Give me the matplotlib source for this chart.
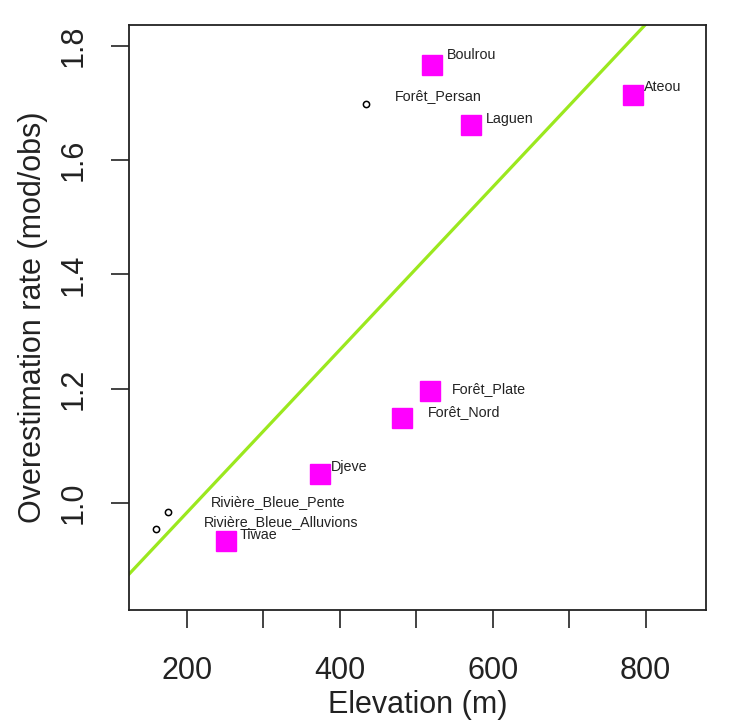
import matplotlib.pyplot as plt
import numpy as np

# sites shown as filled squares
sites = ['Boulrou', 'Laguen', 'Ateou', 'Forêt_Plate', 'Forêt_Nord', 'Djeve', 'Tiwae']
elev = [520, 571, 783, 518, 481, 374, 251]
rate = [1.767, 1.661, 1.714, 1.195, 1.149, 1.051, 0.932]

# sites shown as small open circles
other_sites = ['Forêt_Persan', 'Rivière_Bleue_Pente', 'Rivière_Bleue_Alluvions']
other_elev = [434, 175, 159]
other_rate = [1.698, 0.984, 0.954]

# fitted line: rate = intercept + slope * elevation
intercept = 0.698
slope = 0.001425

# label offsets (points) from each marker
offsets = {
    'Boulrou': (11, 7), 'Laguen': (11, 5), 'Ateou': (8, 6),
    'Forêt_Plate': (16, 1.5), 'Forêt_Nord': (19, 4), 'Djeve': (8, 5),
    'Tiwae': (10, 5), 'Forêt_Persan': (21, 6),
    'Rivière_Bleue_Pente': (31, 7), 'Rivière_Bleue_Alluvions': (35, 5),
}

plt.rcParams['font.family'] = ['Liberation Sans', 'DejaVu Sans']

fig = plt.figure(figsize=(7.30, 7.21), dpi=100)
ax = fig.add_axes([0.1767, 0.154, 0.7903, 0.8113])

xlim = (124, 879)
ax.set_xlim(xlim)
ax.set_ylim(0.812, 1.837)

xs = np.array(xlim)
ax.plot(xs, intercept + slope * xs, color='#9be81e', lw=2.3, zorder=1)

ax.plot(elev, rate, 's', color='#ff00ff', ms=14.5, mec='#ff00ff', zorder=3)
ax.plot(other_elev, other_rate, 'o', mfc='white', mec='black', ms=4.5, mew=1.1, zorder=3)

for name, x, y in zip(sites + other_sites, elev + other_elev, rate + other_rate):
    ax.annotate(name, (x, y), xytext=offsets[name], textcoords='offset points',
                ha='left', va='center', fontsize=10.3, color='#222222')

ax.set_xticks(np.arange(200, 801, 100))
ax.set_xticklabels(['200', '', '400', '', '600', '', '800'])
ax.set_yticks([1.0, 1.2, 1.4, 1.6, 1.8])
ax.set_yticklabels(['1.0', '1.2', '1.4', '1.6', '1.8'], rotation=90, va='center')
ax.tick_params(length=13, width=1.2, labelsize=22, color='#222222', labelcolor='#222222')
ax.tick_params(axis='x', pad=20)
ax.tick_params(axis='y', pad=16)
for s in ax.spines.values():
    s.set_linewidth(1.3)
    s.set_color('#222222')

ax.set_xlabel('Elevation (m)', fontsize=22, labelpad=3, color='#222222')
ax.set_ylabel('Overestimation rate (mod/obs)', fontsize=22, labelpad=8, color='#222222')

fig.savefig('out.png', dpi=100)
